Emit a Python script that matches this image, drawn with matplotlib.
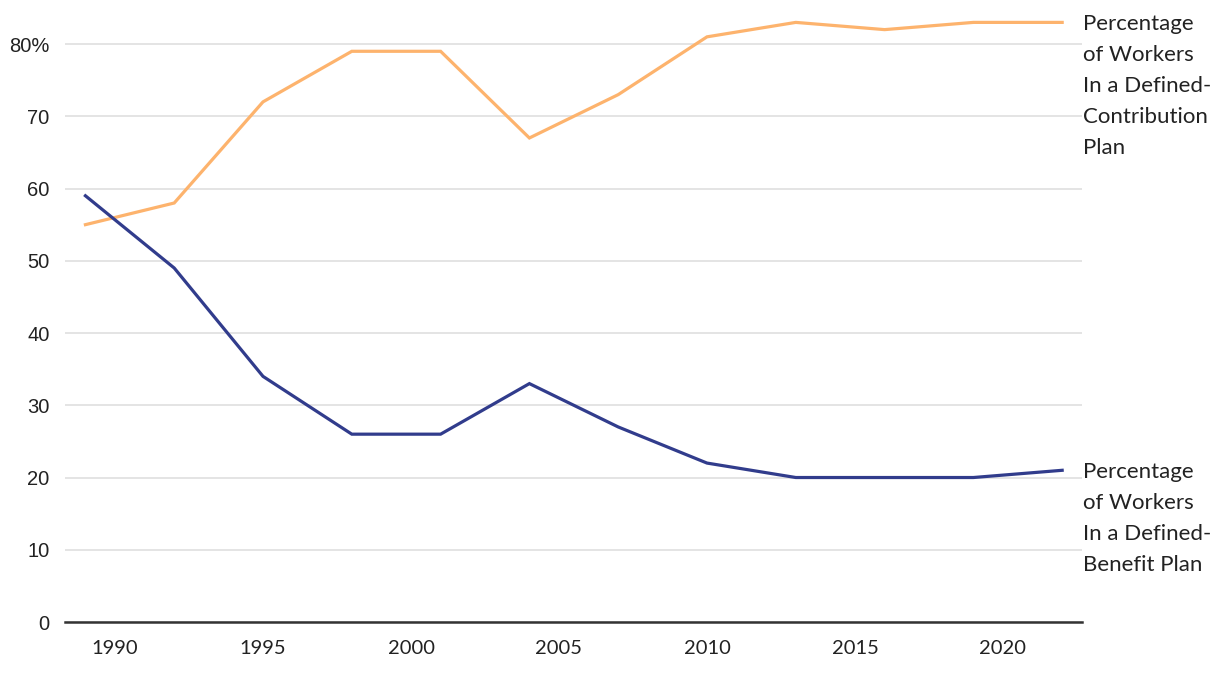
import matplotlib.pyplot as plt

# data
years = [1989, 1992, 1995, 1998, 2001, 2004, 2007, 2010, 2013, 2016, 2019, 2022]
dc_pct = [55, 58, 72, 79, 79, 67, 73, 81, 83, 82, 83, 83]
db_pct = [59, 49, 34, 26, 26, 33, 27, 22, 20, 20, 20, 21]
yticks = [0, 10, 20, 30, 40, 50, 60, 70, 80]
ytick_labels = ['0', '10', '20', '30', '40', '50', '60', '70', '80%']
xticks = [1990, 1995, 2000, 2005, 2010, 2015, 2020]
dc_label = 'Percentage\nof Workers\nIn a Defined-\nContribution\nPlan'
db_label = 'Percentage\nof Workers\nIn a Defined-\nBenefit Plan'

orange = '#FDB36D'
navy = '#313C8C'
txt = '#222222'

plt.rcParams['font.family'] = ['Lato', 'DejaVu Sans']

fig = plt.figure(figsize=(12.2, 6.74), dpi=100)
ax = fig.add_axes([65 / 1220, 52 / 674, (1082 - 65) / 1220, (622 - 0) / 674])

ax.plot(years, dc_pct, color=orange, lw=2.3, solid_joinstyle='miter', zorder=3)
ax.plot(years, db_pct, color=navy, lw=2.3, solid_joinstyle='miter', zorder=3)

ax.set_xlim(1988.31, 2022.67)
ax.set_ylim(0, 86.1)

ax.set_yticks(yticks)
ax.set_yticklabels(ytick_labels, family=['Liberation Sans', 'DejaVu Sans'], fontsize=14.5, color=txt)
ax.set_xticks(xticks)
ax.set_xticklabels([str(x) for x in xticks], fontsize=14.5, color=txt)
ax.tick_params(axis='both', length=0)
ax.tick_params(axis='y', pad=11)
ax.tick_params(axis='x', pad=13)

ax.grid(axis='y', color='#e2e2e2', lw=1.3)
ax.grid(axis='x', visible=False)
for s in ['top', 'right', 'left']:
    ax.spines[s].set_visible(False)
ax.spines['bottom'].set_color('#333333')
ax.spines['bottom'].set_linewidth(1.8)
ax.spines['bottom'].set_zorder(4)

ax.annotate(dc_label, xy=(1, dc_pct[-1]), xycoords=('axes fraction', 'data'),
            xytext=(0.5, 6), textcoords='offset points', ha='left', va='top',
            fontsize=16, linespacing=1.68, color=txt, annotation_clip=False)
ax.annotate(db_label, xy=(1, db_pct[-1]), xycoords=('axes fraction', 'data'),
            xytext=(0.5, 6), textcoords='offset points', ha='left', va='top',
            fontsize=16, linespacing=1.68, color=txt, annotation_clip=False)

fig.savefig('out.png', dpi=100)
